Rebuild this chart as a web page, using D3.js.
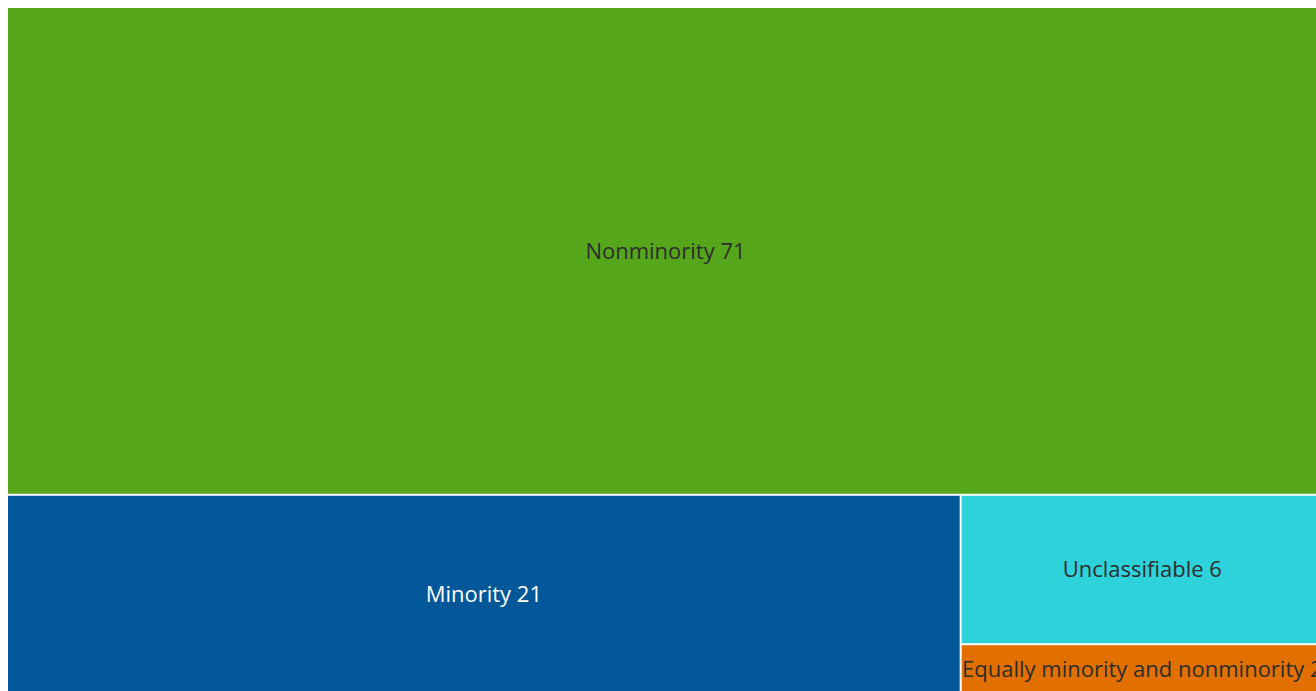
<!DOCTYPE html>
<html>
<head>
<meta charset="utf-8">
<script src="https://cdn.jsdelivr.net/npm/d3@7"></script>
<style>
  html, body { margin: 0; padding: 0; background: #fff; overflow: hidden; }
  svg { display: block; }
</style>
</head>
<body>
<script>
const categories = ["Nonminority", "Minority", "Unclassifiable", "Equally minority and nonminority"];
const values = [71, 21, 6, 2];
const colors = ["#55a61b", "#015798", "#2ed2da", "#e17001"];
const textColors = ["#2d2d2d", "#ffffff", "#2d2d2d", "#2d2d2d"];

const width = 1316, height = 691;
const margin = {top: 8, left: 8};
const mapW = 1315, mapH = 685;

// alternate: even child takes a full-width strip, odd child a full-height strip
function stripTile(parent, x0, y0, x1, y1) {
    let nodes = parent.children;
    let remaining = parent.value;
    nodes.forEach(function(node, i) {
        let k = remaining ? node.value / remaining : 0;
        if (i === nodes.length - 1) k = 1;
        node.x0 = x0; node.y0 = y0; node.x1 = x1; node.y1 = y1;
        if (i % 2 === 0) {
            node.y1 = y0 + (y1 - y0) * k;
            y0 = node.y1;
        } else {
            node.x1 = x0 + (x1 - x0) * k;
            x0 = node.x1;
        }
        remaining -= node.value;
    });
}

const data = {
    name: "root",
    children: categories.map((c, i) => ({name: c, value: values[i], color: colors[i], text: textColors[i]}))
};

const root = d3.hierarchy(data).sum(d => d.value || 0);

d3.treemap()
    .tile(stripTile)
    .size([mapW, mapH])
    .paddingInner(2)(root);

const svg = d3.select("body").append("svg")
    .attr("width", width)
    .attr("height", height)
    .append("g")
    .attr("transform", "translate(" + margin.left + "," + margin.top + ")");

const cell = svg.selectAll("g.cell")
    .data(root.leaves())
    .join("g")
    .attr("class", "cell");

cell.append("rect")
    .attr("x", d => d.x0)
    .attr("y", d => d.y0)
    .attr("width", d => d.x1 - d.x0)
    .attr("height", d => d.y1 - d.y0)
    .attr("fill", d => d.data.color);

cell.append("text")
    .attr("x", d => (d.x0 + d.x1) / 2)
    .attr("y", d => (d.y0 + d.y1) / 2)
    .attr("dy", "0.35em")
    .style("text-anchor", "middle")
    .style("font-family", "'Open Sans', sans-serif")
    .style("font-size", "22px")
    .attr("fill", d => d.data.text)
    .text(d => d.data.name + " " + d.data.value);
</script>
</body>
</html>
